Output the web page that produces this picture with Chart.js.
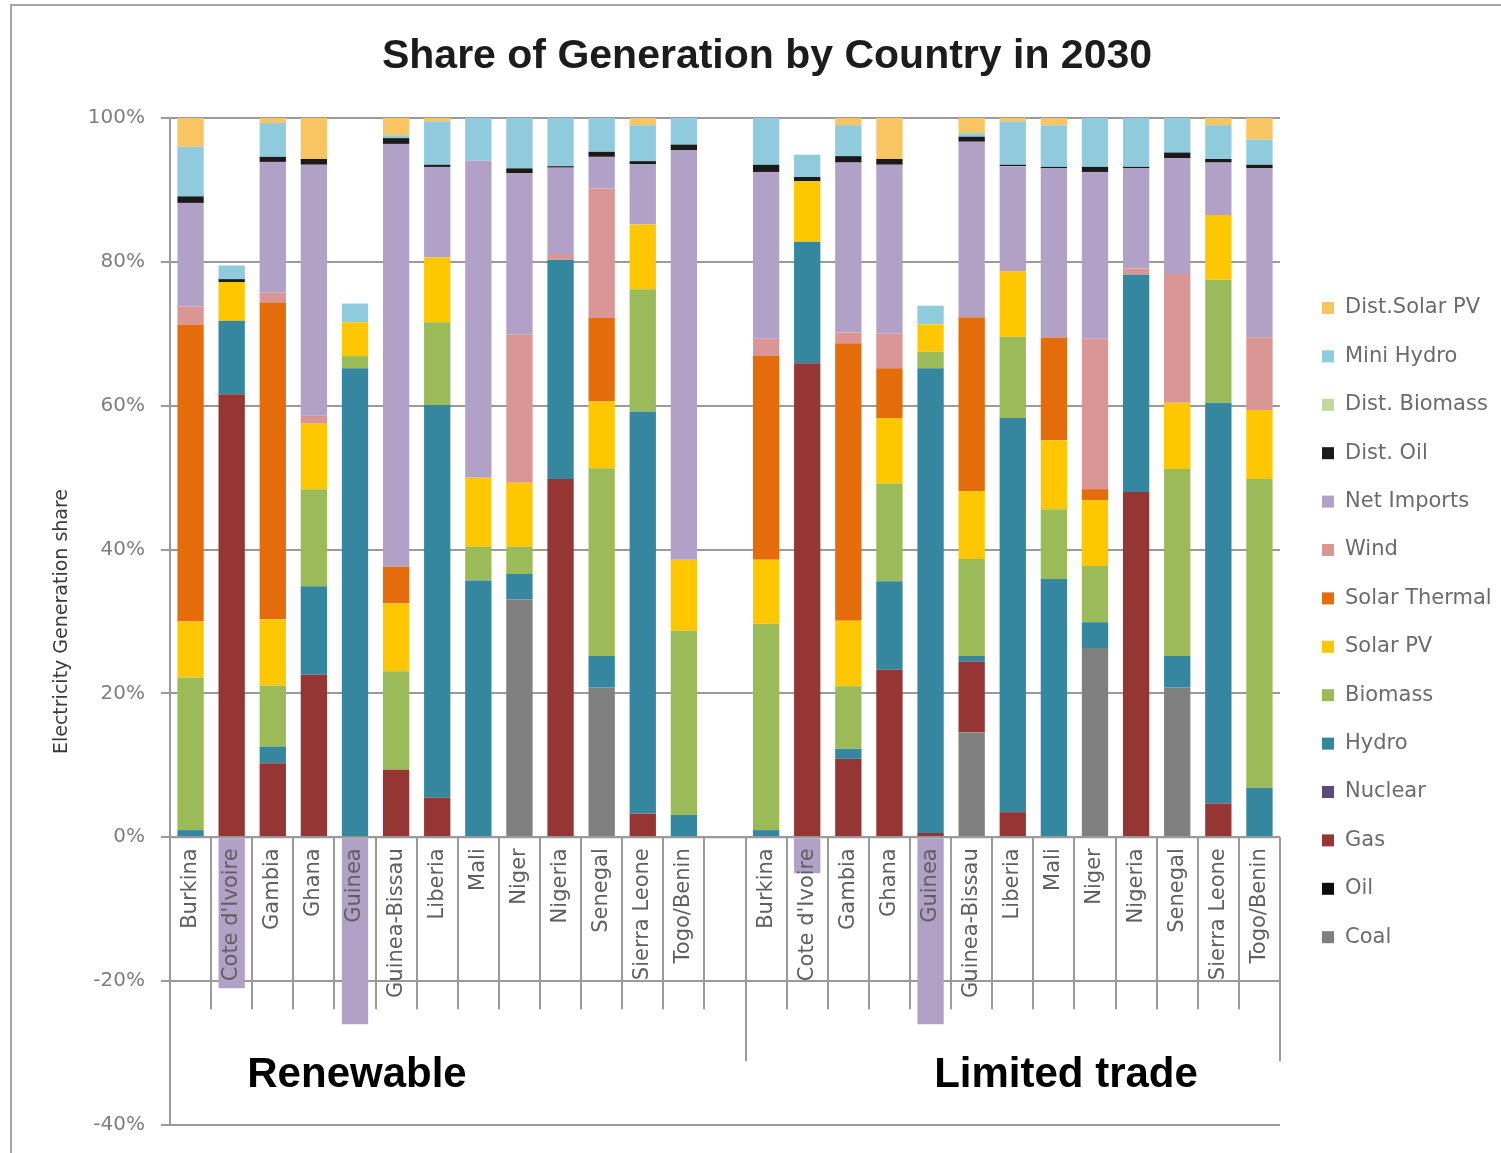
<!DOCTYPE html>
<html>
<head>
<meta charset="utf-8">
<title>Share of Generation by Country in 2030</title>
<script src="https://cdn.jsdelivr.net/npm/chart.js@4.4.1/dist/chart.umd.min.js"></script>
<style>
  html, body { margin: 0; padding: 0; background: #fff; }
  canvas { display: block; }
</style>
</head>
<body>
<canvas id="genChart" width="1501" height="1153"></canvas>
<script>
const countries = ["Burkina", "Cote d'Ivoire", "Gambia", "Ghana", "Guinea", "Guinea-Bissau", "Liberia",
  "Mali", "Niger", "Nigeria", "Senegal", "Sierra Leone", "Togo/Benin"];
const scenarios = ["Renewable", "Limited trade"];
const yTicks = [-40, -20, 0, 20, 40, 60, 80, 100];

// generation share in %, first 13 = Renewable, last 13 = Limited trade
const coal         = [0, 0, 0, 0, 0, 0, 0, 0, 33.1, 0, 20.8, 0, 0,
                      0, 0, 0, 0, 0, 14.6, 0, 0, 26.3, 0, 20.8, 0, 0];
const oil          = [0, 0, 0, 0, 0, 0, 0, 0, 0, 0, 0, 0, 0,
                      0, 0, 0, 0, 0, 0, 0, 0, 0, 0, 0, 0, 0];
const gas          = [0, 61.6, 10.3, 22.6, 0, 9.4, 5.5, 0, 0, 49.8, 0, 3.3, 0,
                      0, 65.9, 10.9, 23.3, 0.6, 9.8, 3.5, 0, 0, 48.0, 0, 4.7, 0];
const nuclear      = [0, 0, 0, 0, 0, 0, 0, 0, 0, 0, 0, 0, 0,
                      0, 0, 0, 0, 0, 0, 0, 0, 0, 0, 0, 0, 0];
const hydro        = [1.0, 10.2, 2.3, 12.3, 65.2, 0, 54.6, 35.7, 3.5, 30.5, 4.4, 55.9, 3.1,
                      1.0, 16.9, 1.4, 12.3, 64.6, 0.8, 54.8, 35.9, 3.6, 30.2, 4.4, 55.7, 6.9];
const biomass      = [21.2, 0, 8.5, 13.5, 1.7, 13.7, 11.5, 4.7, 3.8, 0, 26.1, 17.0, 25.6,
                      28.7, 0, 8.7, 13.6, 2.3, 13.5, 11.3, 9.7, 7.8, 0, 26.0, 17.1, 42.9];
const solarPV      = [7.8, 5.4, 9.2, 9.1, 4.7, 9.4, 9.0, 9.6, 8.9, 0, 9.3, 9.0, 9.9,
                      8.9, 8.4, 9.1, 9.1, 3.8, 9.4, 9.1, 9.6, 9.2, 0, 9.2, 9.0, 9.6];
const solarThermal = [41.3, 0, 44.0, 0, 0, 5.1, 0, 0, 0, 0, 11.6, 0, 0,
                      28.3, 0, 38.6, 6.9, 0, 24.2, 0, 14.3, 1.5, 0, 0, 0, 0];
const wind         = [2.5, 0, 1.4, 1.1, 0, 0, 0, 0, 20.6, 0.8, 18.0, 0, 0,
                      2.4, 0, 1.5, 4.8, 0, 0, 0, 0, 20.9, 0.9, 17.9, 0, 10.1];
const netImports   = [14.4, -21, 18.2, 34.9, -26, 58.8, 12.6, 44.1, 22.4, 12.0, 4.4, 8.4, 56.9,
                      23.2, -5, 23.6, 23.5, -26, 24.4, 14.6, 23.5, 23.2, 13.9, 16.1, 7.3, 23.5];
const distOil      = [0.9, 0.4, 0.7, 0.8, 0, 0.8, 0.3, 0, 0.7, 0.2, 0.7, 0.4, 0.8,
                      1.0, 0.6, 0.9, 0.8, 0, 0.7, 0.2, 0.2, 0.7, 0.2, 0.8, 0.5, 0.5];
const distBiomass  = [0, 0, 0, 0, 0, 0, 0, 0, 0, 0, 0, 0, 0,
                      0, 0, 0, 0, 0, 0, 0, 0, 0, 0, 0, 0, 0];
const miniHydro    = [6.9, 1.9, 4.7, 0, 2.6, 0.4, 6.0, 5.9, 7.0, 6.7, 4.7, 5.0, 3.7,
                      6.5, 3.1, 4.3, 0, 2.6, 0.5, 6.0, 5.8, 6.8, 6.8, 4.8, 4.7, 3.5];
const distSolarPV  = [4.0, 0, 0.7, 5.7, 0, 2.4, 0.5, 0, 0, 0, 0, 1.0, 0,
                      0, 0, 1.0, 5.7, 0, 2.1, 0.5, 1.0, 0, 0, 0, 1.0, 3.0];

// empty slot between the two scenario groups
const withGap = arr => [...arr.slice(0, 13), null, ...arr.slice(13)];
const labels = [...countries, "", ...countries];

// stacking order, bottom to top
const series = [
  ["Coal", coal, "#808080"],
  ["Oil", oil, "#0d0d0d"],
  ["Gas", gas, "#963634"],
  ["Nuclear", nuclear, "#5f497a"],
  ["Hydro", hydro, "#34879f"],
  ["Biomass", biomass, "#9bbb59"],
  ["Solar PV", solarPV, "#ffc700"],
  ["Solar Thermal", solarThermal, "#e46c0a"],
  ["Wind", wind, "#d99694"],
  ["Net Imports", netImports, "#b2a1c7"],
  ["Dist. Oil", distOil, "#1a1a1a"],
  ["Dist. Biomass", distBiomass, "#c3d69b"],
  ["Mini Hydro", miniHydro, "#8fcbdd"],
  ["Dist.Solar PV", distSolarPV, "#f9c462"]
];

const GRID = "#9a9a9a";
const FONT = "DejaVu Sans";

const decorations = {
  id: "decorations",
  beforeDraw(chart) {
    const ctx = chart.ctx;
    ctx.save();
    ctx.fillStyle = "#fff";
    ctx.fillRect(0, 0, chart.width, chart.height);
    ctx.strokeStyle = "#a6a6a6";
    ctx.lineWidth = 2;
    ctx.strokeRect(11, 5, chart.width, chart.height);
    ctx.restore();
  },
  afterDatasetsDraw(chart) {
    const { ctx, chartArea, scales: { x, y } } = chart;
    const n = chart.data.labels.length;
    const step = (chartArea.right - chartArea.left) / n;
    const y0 = y.getPixelForValue(0);
    const yM20 = y.getPixelForValue(-20);

    ctx.save();
    ctx.strokeStyle = GRID;
    ctx.lineWidth = 2;
    ctx.beginPath();
    ctx.moveTo(chartArea.left, y0);
    ctx.lineTo(chartArea.right, y0);
    ctx.stroke();
    // category dividers, longer ones close each scenario group
    for (let k = 1; k <= n; k++) {
      const px = Math.round(chartArea.left + step * k);
      const groupEnd = k === 14 || k === n;
      ctx.beginPath();
      ctx.moveTo(px, y0);
      ctx.lineTo(px, groupEnd ? yM20 + 80 : yM20 + 28);
      ctx.stroke();
    }

    // rotated country names
    ctx.fillStyle = "#5f5f5f";
    ctx.font = `21px "${FONT}"`;
    ctx.textAlign = "right";
    ctx.textBaseline = "middle";
    chart.data.labels.forEach((lab, i) => {
      if (!lab) return;
      ctx.save();
      ctx.translate(x.getPixelForValue(i), y0 + 11);
      ctx.rotate(-Math.PI / 2);
      ctx.fillText(lab, 0, 0);
      ctx.restore();
    });

    // scenario names
    ctx.fillStyle = "#000";
    ctx.font = 'bold 42px "Liberation Sans"';
    ctx.textAlign = "center";
    ctx.fillText(scenarios[0], 357, 1075);
    ctx.fillText(scenarios[1], 1066, 1075);
    ctx.restore();
  },
  afterDraw(chart) {
    const ctx = chart.ctx;
    ctx.save();
    ctx.fillStyle = "#1c1c1c";
    ctx.font = 'bold 41px "Liberation Sans"';
    ctx.textAlign = "center";
    ctx.textBaseline = "middle";
    ctx.fillText("Share of Generation by Country in 2030", 767, 57);

    // legend, top entry is the last stacked series
    const sets = chart.data.datasets.slice().reverse();
    ctx.font = `21px "${FONT}"`;
    ctx.textAlign = "left";
    sets.forEach((ds, i) => {
      const cy = 308 + i * 48.4;
      ctx.fillStyle = ds.backgroundColor;
      ctx.fillRect(1322, cy - 6, 12, 12);
      ctx.fillStyle = "#6b6b6b";
      ctx.fillText(ds.label, 1345, cy);
    });
    ctx.restore();
  }
};

new Chart(document.getElementById("genChart"), {
  type: "bar",
  data: {
    labels: labels,
    datasets: series.map(([label, values, color]) => ({
      label: label,
      data: withGap(values),
      backgroundColor: color,
      borderWidth: 0,
      categoryPercentage: 1,
      barPercentage: 0.64
    }))
  },
  options: {
    responsive: false,
    animation: false,
    devicePixelRatio: 1,
    layout: { padding: { top: 118, bottom: 25, left: 0, right: 221 } },
    plugins: {
      legend: { display: false },
      title: { display: false },
      tooltip: { enabled: false }
    },
    scales: {
      x: {
        stacked: true,
        display: false
      },
      y: {
        stacked: true,
        min: yTicks[0],
        max: yTicks[yTicks.length - 1],
        afterFit: scale => { scale.width = 170; },
        afterBuildTicks: scale => { scale.ticks = yTicks.map(v => ({ value: v })); },
        ticks: {
          callback: v => v + "%",
          color: "#7f7f7f",
          font: { family: FONT, size: 20 },
          padding: 16
        },
        grid: { color: GRID, lineWidth: 2, tickLength: 9 },
        border: { display: true, color: GRID, width: 2 },
        title: {
          display: true,
          text: "Electricity Generation share",
          color: "#3a3a3a",
          font: { family: FONT, size: 19 },
          padding: { top: 51, bottom: 0 }
        }
      }
    }
  },
  plugins: [decorations]
});
</script>
</body>
</html>
